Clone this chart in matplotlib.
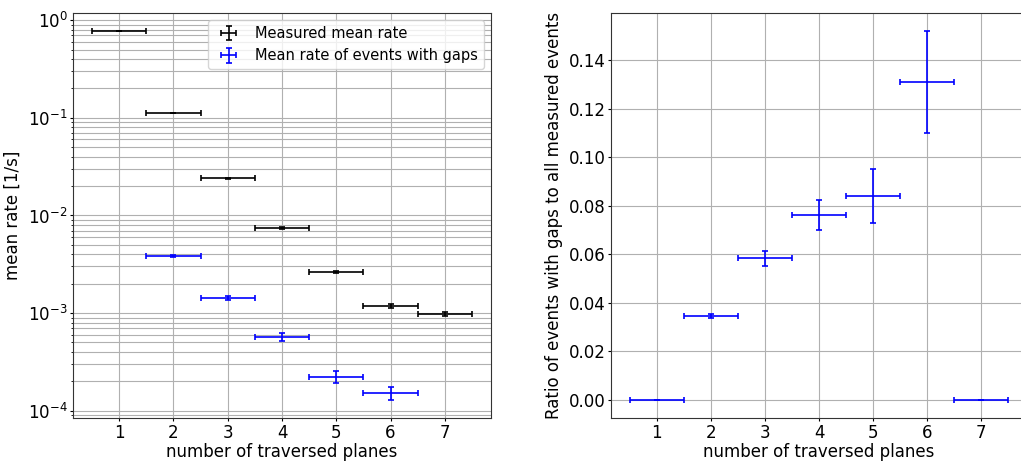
import matplotlib
matplotlib.use("Agg")
import matplotlib.pyplot as plt
import numpy as np

planes = [1, 2, 3, 4, 5, 6, 7]
plane_halfwidth = [0.5] * 7

# mean rate of all measured events [1/s]
rate_all = [0.77, 0.112, 0.0241, 0.00743, 0.00264, 0.00118, 0.00098]
rate_all_err = [0.003, 0.0008, 0.0003, 0.0002, 0.00008, 0.00006, 0.00005]

# mean rate of events with gaps [1/s]
planes_gap = [2, 3, 4, 5, 6]
rate_gap = [0.00384, 0.00143, 0.000569, 0.000222, 0.000152]
rate_gap_err = [0.00011, 0.00008, 0.00005, 0.00003, 0.000023]

# ratio of events with gaps to all measured events
ratio = [0.0, 0.0345, 0.0583, 0.0763, 0.0840, 0.1310, 0.0]
ratio_err = [0.0, 0.001, 0.003, 0.0062, 0.011, 0.021, 0.0]

plt.rcParams["font.family"] = "DejaVu Sans"
plt.rcParams["font.size"] = 12
plt.rcParams["axes.edgecolor"] = "#333333"
plt.rcParams["xtick.major.size"] = 2
plt.rcParams["ytick.major.size"] = 2
plt.rcParams["ytick.minor.size"] = 1.2
plt.rcParams["xtick.major.pad"] = 2
plt.rcParams["ytick.major.pad"] = 2
plt.rcParams["axes.labelpad"] = 1

W, H = 1021, 461
fig = plt.figure(figsize=(W / 100, H / 100), dpi=100)
ax1 = fig.add_axes([73 / W, (H - 418) / H, (491 - 73) / W, 405 / H])
ax2 = fig.add_axes([611 / W, (H - 418) / H, (1027 - 611) / W, 405 / H])

eb_kw = dict(fmt="none", capsize=2.2, elinewidth=1.2, capthick=1.2)

ax1.errorbar(planes, rate_all, xerr=plane_halfwidth, yerr=rate_all_err,
             color="black", label="Measured mean rate", **eb_kw)
ax1.errorbar(planes_gap, rate_gap, xerr=[0.5] * len(planes_gap), yerr=rate_gap_err,
             color="blue", label="Mean rate of events with gaps", **eb_kw)
ax1.set_yscale("log")
ax1.set_ylim(10 ** -4.075, 10 ** 0.074)
ax1.grid(True, which="both", color="#b0b0b0", linewidth=0.8)
ax1.set_axisbelow(True)
ax1.set_xlabel("number of traversed planes")
ax1.set_ylabel("mean rate [1/s]", labelpad=4)
ax1.set_xticks(planes)
ax1.legend(loc="upper right", fontsize=10.5)

ax2.errorbar(planes, ratio, xerr=plane_halfwidth, yerr=ratio_err, color="blue", **eb_kw)
ax2.grid(True, color="#b0b0b0", linewidth=0.8)
ax2.set_axisbelow(True)
ax2.set_xlabel("number of traversed planes")
ax2.set_ylabel("Ratio of events with gaps to all measured events", labelpad=4)
ax2.set_xticks(planes)

fig.savefig("out.png", dpi=100)
